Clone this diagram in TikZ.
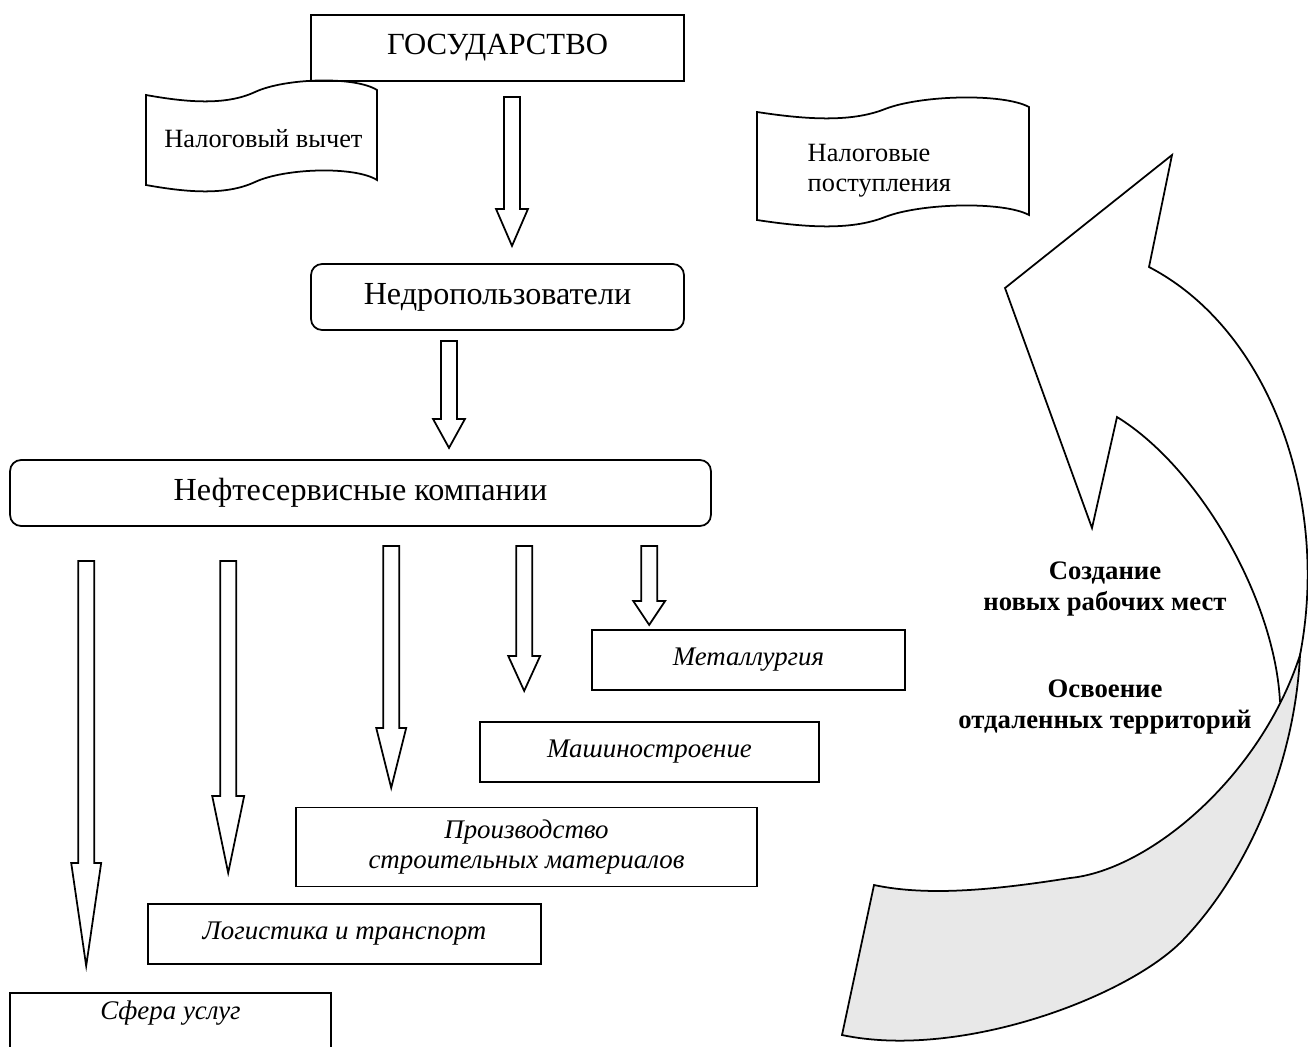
\documentclass[tikz,border=0pt]{standalone}
\usepackage{fontspec}
\setmainfont{Liberation Serif}
\usepackage{tikz}
\usetikzlibrary{arrows,positioning,calc}

\begin{document}
\begin{tikzpicture}[x=0.02cm,y=-0.02cm,line width=1pt,
  ramka/.style={rectangle,draw=black,minimum height=1.2cm,font=\fontsize{15.3}{17.6}\selectfont\itshape,align=center},
  kruglo/.style={rectangle,rounded corners=0.22cm,draw=black,minimum height=1.32cm,font=\fontsize{18.3}{21}\selectfont},
  lenta/.style={font=\fontsize{15}{17}\selectfont,align=left},
  strelka/.style={draw=black,fill=white,line join=miter},
  podpis/.style={font=\fontsize{15.2}{17.6}\selectfont\bfseries,align=center}]
  \path[use as bounding box,clip] (0,0) rectangle (1308,1046);

  \node[rectangle,draw=black,minimum width=7.46cm,minimum height=1.32cm,font=\fontsize{17.5}{20}\selectfont] (gos) at (497.5,48){ГОСУДАРСТВО};
  \node[kruglo,minimum width=7.46cm] (nedro) at (497.5,297){Недропользователи};
  \node[kruglo,minimum width=14.02cm] (neft) at (360.5,493){Нефтесервисные компании};

  % lenty
  \draw (146,95) .. controls (185,102) and (225,106) .. (255,92) .. controls (285,78) and (355,76) .. (377,90) -- (377,180)
     .. controls (355,166) and (285,168) .. (255,182) .. controls (225,196) and (185,192) .. (146,185) -- cycle;
  \node[lenta] (vychet) at (263.5,139){Налоговый вычет};
  \draw (757,112) .. controls (803,119) and (850,123) .. (885,109) .. controls (921,95) and (1003,93) .. (1029,107) -- (1029,215)
     .. controls (1003,201) and (921,203) .. (885,217) .. controls (850,231) and (803,227) .. (757,220) -- cycle;
  \node[lenta,anchor=west] (postup) at (801,171){Налоговые\\поступления};

  % polye strelki
  \draw[strelka] ($(gos.south)+(6.5,15)$) -- ++(16,0) -- ++(0,112) -- ++(8,0) -- ++(-16,37) -- ++(-16,-37) -- ++(8,0) -- cycle;
  \draw[strelka] ($(nedro.south)+(-56.5,10)$) -- ++(16,0) -- ++(0,78) -- ++(8,0) -- ++(-16,29) -- ++(-16,-29) -- ++(8,0) -- cycle;
  \draw[strelka] ($(neft.south west)+(69,34)$) -- ++(16,0) -- ++(0,302) -- ++(7,0) -- ++(-15,103) -- ++(-15,-103) -- ++(7,0) -- cycle;
  \draw[strelka] ($(neft.south west)+(211,34)$) -- ++(16,0) -- ++(0,235) -- ++(8,0) -- ++(-16,77) -- ++(-16,-77) -- ++(8,0) -- cycle;
  \draw[strelka] ($(neft.south west)+(374,19)$) -- ++(16,0) -- ++(0,182) -- ++(7,0) -- ++(-15,60) -- ++(-15,-60) -- ++(7,0) -- cycle;
  \draw[strelka] ($(neft.south west)+(507,19)$) -- ++(16,0) -- ++(0,110) -- ++(8,0) -- ++(-16,35) -- ++(-16,-35) -- ++(8,0) -- cycle;
  \draw[strelka] ($(neft.south west)+(632,19)$) -- ++(16,0) -- ++(0,55) -- ++(8,0) -- ++(-16,24) -- ++(-16,-24) -- ++(8,0) -- cycle;

  \node[ramka,minimum width=6.26cm] (metal) at (748.5,660){Металлургия};
  \node[ramka,minimum width=6.78cm] (mash) at (649.5,752){Машиностроение};
  \node[ramka,minimum width=9.22cm,minimum height=1.58cm] (proizv) at (526.5,847){Производство\\строительных материалов};
  \node[ramka,minimum width=7.86cm] (logist) at (344.5,934){Логистика и транспорт};
  \node[ramka,minimum width=6.42cm,anchor=base,text height=0.4cm,text depth=1.5cm] (usl) at (170.5,1019){Сфера услуг};

  % bolshaya strelka
  \draw (1280,702) .. controls (1275,600) and (1200,468) .. (1117,417)
     -- (1092,528) -- (1005,288) -- (1172,155) -- (1149,267)
     .. controls (1270,330) and (1330,500) .. (1300,655);
  \filldraw[fill=gray!18] (874,885) .. controls (930,897) and (1000,889) .. (1070,878)
     .. controls (1150,870) and (1261,776) .. (1300,655)
     .. controls (1295,760) and (1250,870) .. (1183,940)
     .. controls (1128,997) and (960,1060) .. (842,1035) -- cycle;

  \node[podpis] (sozd) at (1105,589){Создание\\новых рабочих мест};
  \node[podpis] (osv) at (1105,707){Освоение\\отдаленных территорий};
\end{tikzpicture}
\end{document}
